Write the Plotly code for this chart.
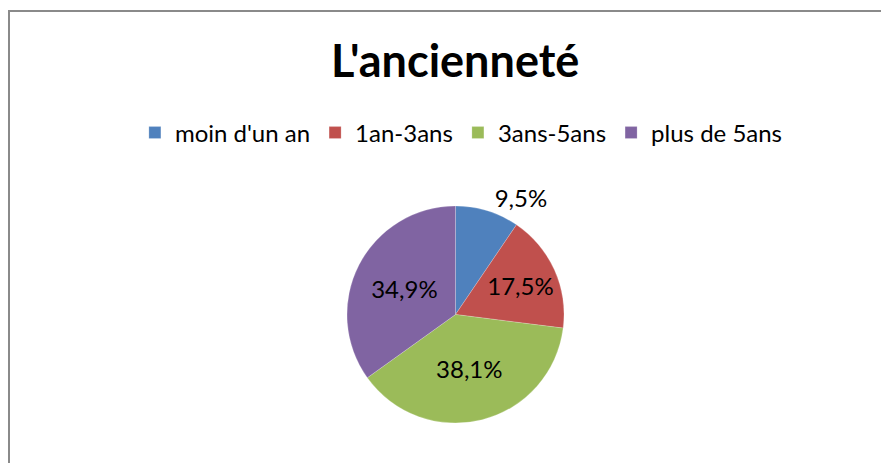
import plotly.graph_objects as go

# L'ancienneté - share of respondents by seniority
categories = ["moin d'un an", "1an-3ans", "3ans-5ans", "plus de 5ans"]
shares = [9.5, 17.5, 38.1, 34.9]
colors = ["#4F81BD", "#C0504D", "#9BBB59", "#8064A2"]
label_pos = ["outside", "inside", "inside", "inside"]

# french decimal comma
labels_txt = [f"{v:.1f}%".replace(".", ",") for v in shares]

W, H = 889, 463
FONT = "Lato, 'Open Sans', sans-serif"

fig = go.Figure(
    go.Pie(
        labels=categories,
        values=shares,
        text=labels_txt,
        textinfo="text",
        textposition=label_pos,
        insidetextorientation="horizontal",
        insidetextfont=dict(color="black", size=24),
        outsidetextfont=dict(color="black", size=24),
        marker=dict(colors=colors, line=dict(color="rgba(255,255,255,0.4)", width=0.5)),
        sort=False,
        direction="clockwise",
        rotation=0,
        domain=dict(x=[339 / W, 556 / W], y=[48 / H, 265 / H]),
        hoverinfo="label+percent",
    )
)

fig.update_layout(
    width=W,
    height=H,
    margin=dict(l=0, r=0, t=0, b=0),
    paper_bgcolor="white",
    font=dict(family=FONT, color="black", size=24),
    title=dict(
        text="<b>L'ancienneté</b>",
        x=0.503,
        xanchor="center",
        y=1 - 53 / H,
        yanchor="middle",
        font=dict(size=45, family=FONT, color="black"),
    ),
    legend=dict(
        orientation="h",
        x=0.51,
        xanchor="center",
        y=1 - 125 / H,
        yanchor="middle",
        font=dict(size=24),
        traceorder="normal",
    ),
    shapes=[
        # chart area border (cut off on the right and bottom)
        dict(type="rect", xref="paper", yref="paper",
             x0=1 / W, x1=1.02, y0=-0.02, y1=1 - 3 / H,
             line=dict(color="#8a8a8a", width=2)),
    ],
)

fig.write_html("out.html")
